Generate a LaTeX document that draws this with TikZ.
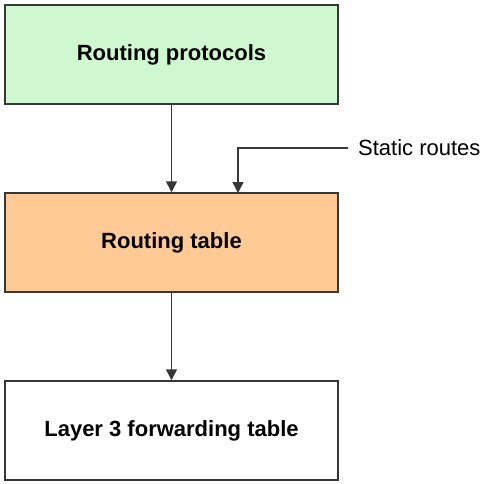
\documentclass[tikz,border=0pt]{standalone}
\usepackage{fontspec}
\setmainfont{Liberation Sans}
\usetikzlibrary{arrows.meta}
\definecolor{boxgreen}{RGB}{208,248,208}
\definecolor{boxorange}{RGB}{255,202,150}
\definecolor{linegray}{RGB}{55,55,55}
\tikzset{
  blk/.style={draw=linegray, line width=1.5pt, minimum width=333pt, minimum height=99pt, inner sep=0pt, font=\fontsize{22}{26}\selectfont\bfseries},
  conn/.style={draw=linegray, line width=1.5pt, -{Triangle[width=11pt,length=11pt]}}
}
\begin{document}
\begin{tikzpicture}[x=1pt,y=-1pt]
\useasboundingbox[fill=white] (0,0) rectangle (483,484);
\node[blk, fill=boxgreen] (rp) at (171.5,54.5) {Routing protocols};
\node[blk, fill=boxorange] (rt) at (171.5,242.5) {Routing table};
\node[blk, fill=white] (l3) at (171.5,430.5) {Layer 3 forwarding table};
\node[anchor=west, inner sep=0pt, font=\fontsize{22}{26}\selectfont] (sr) at (358,148) {Static routes};
\coordinate (sre) at (348,148);
\draw[conn] (rp.south) -- (rt.north);
\draw[conn] (rt.south) -- (l3.north);
\draw[conn] (sre) -- (238,148) -- (238,193);
\end{tikzpicture}
\end{document}
